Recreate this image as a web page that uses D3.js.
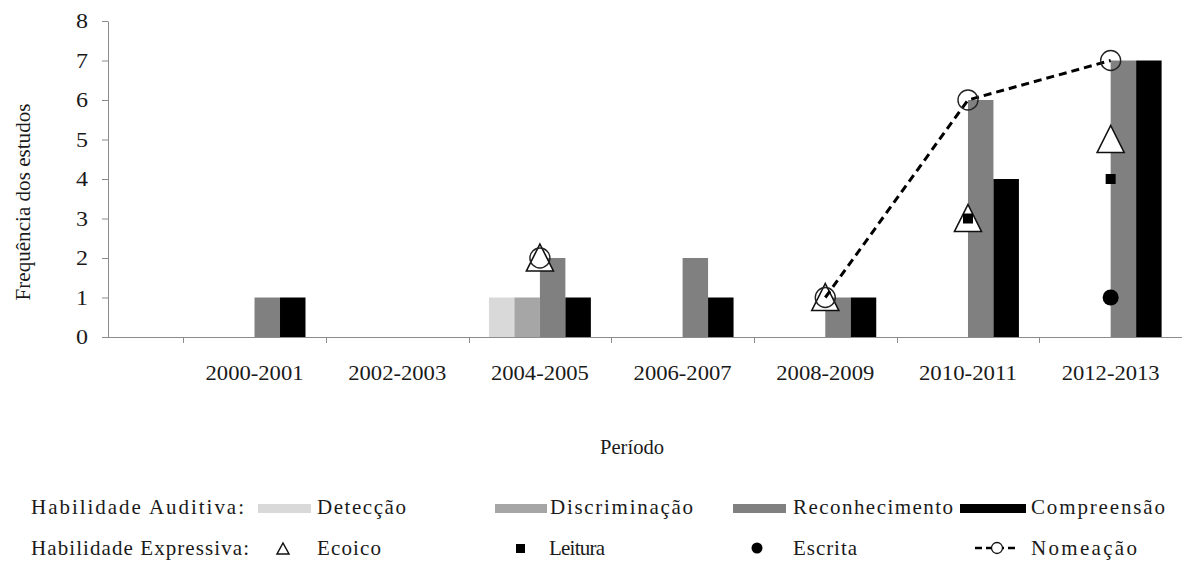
<!DOCTYPE html>
<html><head><meta charset="utf-8">
<script src="https://cdn.jsdelivr.net/npm/d3@7"></script>
<style>
body{margin:0;background:#fff}
svg{display:block}
</style>
</head><body><svg id="c" width="1182" height="572"></svg>
<script>
const periods = ["2000-2001","2002-2003","2004-2005","2006-2007","2008-2009","2010-2011","2012-2013"];
const barSeries = ["Detecção","Discriminação","Reconhecimento","Compreensão"];
const deteccao      = [0,0,1,0,0,0,0];
const discriminacao = [0,0,1,0,0,0,0];
const reconhecimento= [1,0,2,2,1,6,7];
const compreensao   = [1,0,1,1,1,4,7];
const ecoico   = [null,null,2,null,1,3,5];
const leitura  = [null,null,null,null,null,3,4];
const escrita  = [null,null,null,null,null,null,1];
const nomeacao = [null,null,2,null,1,6,7];
const yTicks = [0,1,2,3,4,5,6,7,8];
const barColors = ["#d9d9d9","#a6a6a6","#808080","#000000"];

const FONT = "Liberation Serif";
const svg = d3.select("#c");
const x = d3.scaleBand().domain(["", ...periods]).range([40.5, 1182]).padding(0);
const y = d3.scaleLinear().domain([0, 8]).range([337, 21]);
const xi = d3.scaleBand().domain(barSeries).range([0, x.bandwidth()]).paddingOuter(0.8).paddingInner(0);
const cx = p => x(p) + x.bandwidth() / 2;

function T(sel) {
  return sel.attr("font-family", FONT).attr("fill", "#1a1a1a").style("font-family", FONT);
}

// Y axis
const ya = svg.append("g").attr("transform", "translate(108,0)")
  .call(d3.axisLeft(y).tickValues(yTicks).tickSize(6).tickSizeOuter(0).tickPadding(14).tickFormat(d3.format("d")));
ya.attr("font-family", FONT);
ya.select(".domain").attr("stroke", "#8c8c8c");
ya.selectAll(".tick line").attr("stroke", "#8c8c8c");
T(ya.selectAll(".tick text")).attr("font-size", 21).attr("textLength", 12).attr("lengthAdjust", "spacingAndGlyphs");

// X axis (ticks on band boundaries)
const xa = svg.append("g");
xa.append("line").attr("x1", 103).attr("x2", 1182).attr("y1", 337.5).attr("y2", 337.5).attr("stroke", "#8c8c8c");
xa.selectAll(".xt").data(periods).join("line").attr("class", "xt")
  .attr("x1", d => Math.round(x(d)) + 0.5).attr("x2", d => Math.round(x(d)) + 0.5)
  .attr("y1", 337).attr("y2", 343).attr("stroke", "#8c8c8c");
T(xa.selectAll(".xl").data(periods).join("text").attr("class", "xl"))
  .attr("x", d => cx(d)).attr("y", 380).attr("text-anchor", "middle")
  .attr("font-size", 22).attr("textLength", 98).attr("lengthAdjust", "spacingAndGlyphs").text(d => d);

// Bars
const barData = [deteccao, discriminacao, reconhecimento, compreensao];
barSeries.forEach((s, i) => {
  svg.append("g").selectAll("rect")
    .data(periods.map((p, j) => ({p, v: barData[i][j]})).filter(d => d.v > 0))
    .join("rect")
    .attr("x", d => x(d.p) + xi(s))
    .attr("width", xi.bandwidth())
    .attr("y", d => y(d.v))
    .attr("height", d => y(0) - y(d.v))
    .attr("fill", barColors[i]);
});

const pts = arr => periods.map((p, j) => ({p, v: arr[j]}));

// Ecoico triangles
svg.append("g").selectAll("path")
  .data(pts(ecoico).filter(d => d.v != null)).join("path")
  .attr("d", "M0,-14L13.5,13L-13.5,13Z")
  .attr("transform", d => `translate(${cx(d.p)},${y(d.v)})`)
  .attr("fill", "#fff").attr("stroke", "#111").attr("stroke-width", 1.6);

// Leitura squares
svg.append("g").selectAll("rect")
  .data(pts(leitura).filter(d => d.v != null)).join("rect")
  .attr("x", d => cx(d.p) - 5).attr("y", d => y(d.v) - 5)
  .attr("width", 10).attr("height", 10).attr("fill", "#000");

// Escrita dots
svg.append("g").selectAll("circle")
  .data(pts(escrita).filter(d => d.v != null)).join("circle")
  .attr("cx", d => cx(d.p)).attr("cy", d => y(d.v)).attr("r", 8).attr("fill", "#000");

// Nomeação line
const line = d3.line().defined(d => d.v != null).x(d => cx(d.p)).y(d => y(d.v));
svg.append("path").datum(pts(nomeacao)).attr("d", line)
  .attr("fill", "none").attr("stroke", "#000").attr("stroke-width", 3).attr("stroke-dasharray", "8,5");
svg.append("g").selectAll("circle")
  .data(pts(nomeacao).filter(d => d.v != null)).join("circle")
  .attr("cx", d => cx(d.p)).attr("cy", d => y(d.v)).attr("r", 10)
  .attr("fill", "none").attr("stroke", "#222").attr("stroke-width", 1.4);

// Axis titles
T(svg.append("text")).attr("transform", "translate(30,202) rotate(-90)").attr("text-anchor", "middle")
  .attr("font-size", 21).attr("textLength", 197).attr("lengthAdjust", "spacingAndGlyphs").text("Frequência dos estudos");
T(svg.append("text")).attr("x", 632).attr("y", 454).attr("text-anchor", "middle")
  .attr("font-size", 21).attr("textLength", 64).attr("lengthAdjust", "spacingAndGlyphs").text("Período");

// Legend
const lg = svg.append("g");
const r1 = 514, r2 = 555;
const txt = (xx, yy, len, s) => T(lg.append("text")).attr("x", xx).attr("y", yy).attr("font-size", 21)
  .attr("textLength", len).attr("lengthAdjust", "spacing").text(s);
txt(31, r1, 213, "Habilidade Auditiva:");
txt(31, r2, 218, "Habilidade Expressiva:");
const legBars = [
  {x0: 258, w: 53, tx: 317, tl: 89},
  {x0: 495, w: 52, tx: 550, tl: 143},
  {x0: 733, w: 53, tx: 793, tl: 160},
  {x0: 960, w: 66, tx: 1031, tl: 134}
];
barSeries.forEach((s, i) => {
  const L = legBars[i];
  lg.append("rect").attr("x", L.x0).attr("y", 504).attr("width", L.w).attr("height", 9).attr("fill", barColors[i]);
  txt(L.tx, r1, L.tl, s);
});
// row 2 symbols
lg.append("path").attr("d", "M0,-6L6,5L-6,5Z").attr("transform", `translate(283,${r2 - 6})`)
  .attr("fill", "none").attr("stroke", "#111").attr("stroke-width", 1.5);
txt(317, r2, 64, "Ecoico");
lg.append("rect").attr("x", 516).attr("y", r2 - 11).attr("width", 9).attr("height", 9).attr("fill", "#000");
txt(549, r2, 56, "Leitura");
lg.append("circle").attr("cx", 757).attr("cy", r2 - 7).attr("r", 5.5).attr("fill", "#000");
txt(793, r2, 64, "Escrita");
lg.append("line").attr("x1", 975).attr("x2", 1019).attr("y1", r2 - 7).attr("y2", r2 - 7)
  .attr("stroke", "#000").attr("stroke-width", 2.5).attr("stroke-dasharray", "7,4");
lg.append("circle").attr("cx", 997).attr("cy", r2 - 7).attr("r", 5.5).attr("fill", "#fff").attr("stroke", "#111").attr("stroke-width", 1.3);
txt(1031, r2, 106, "Nomeação");
</script>
</body></html>
